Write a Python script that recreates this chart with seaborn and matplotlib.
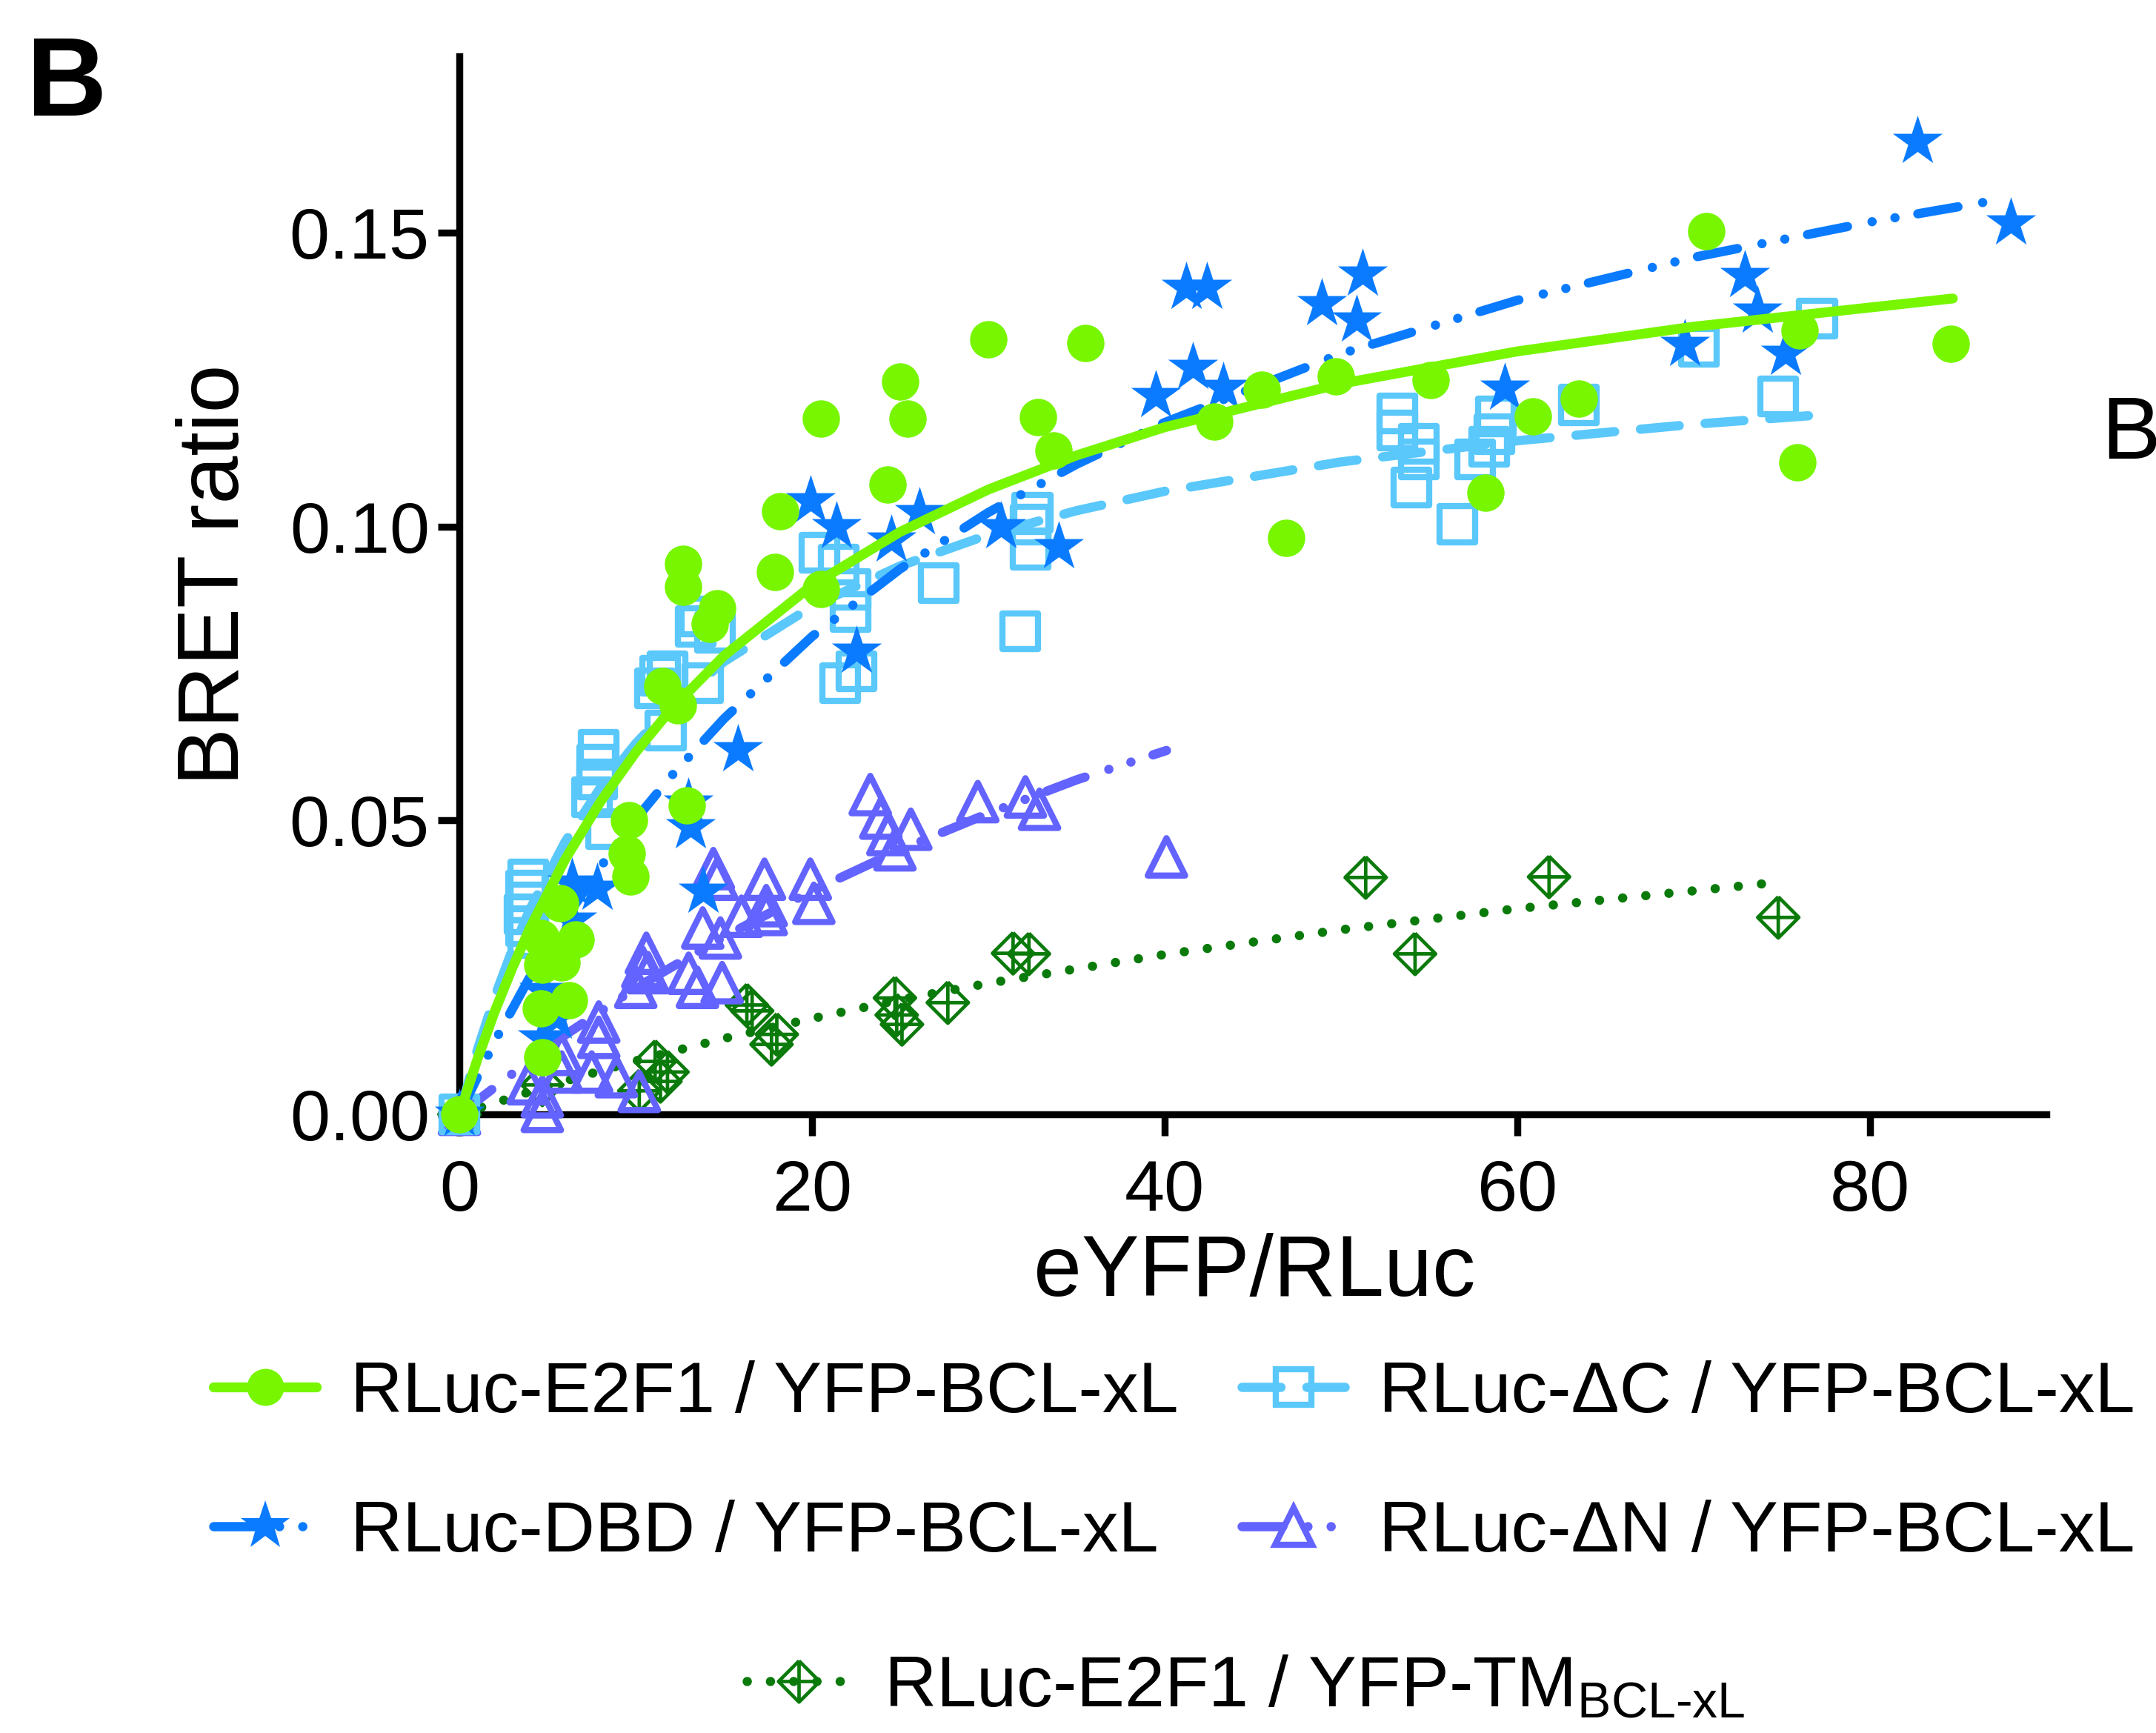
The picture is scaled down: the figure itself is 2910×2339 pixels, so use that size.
import numpy as np
import pandas as pd
import matplotlib
matplotlib.use('Agg')
import matplotlib.pyplot as plt
from matplotlib.path import Path
from matplotlib.lines import Line2D
import seaborn as sns

# RLuc-E2F1 / YFP-BCL-xL  (green dots)
e2f1_x = [0, 4.7, 4.6, 6.2, 4.7, 5.8, 4.6, 6.6, 5.7, 9.5, 9.7, 9.6, 12.9, 11.5, 12.4, 14.6, 14.2, 12.7, 12.7, 18.2,
          17.9, 20.5, 20.5, 24.3, 25.0, 25.4, 30.0, 32.8, 33.7, 35.5, 42.8, 45.5, 46.9, 49.7, 55.1, 58.2, 60.9, 63.5,
          70.7, 76.0, 75.9, 84.6]
e2f1_y = [0, 0.0097, 0.018, 0.0194, 0.0255, 0.0258, 0.030, 0.0298, 0.0359, 0.0444, 0.0405, 0.050, 0.0525, 0.0729,
          0.0696, 0.0861, 0.0834, 0.0936, 0.0898, 0.1026, 0.0923, 0.0894, 0.1183, 0.1072, 0.1247, 0.1183, 0.1318,
          0.1186, 0.1129, 0.1312, 0.1178, 0.1233, 0.0981, 0.1256, 0.1249, 0.1058, 0.1188, 0.1218, 0.1503, 0.1333,
          0.1109, 0.1311]

# RLuc-DBD / YFP-BCL-xL  (blue stars)
dbd_x = [0, 4.7, 5.5, 4.8, 6.4, 6.4, 7.8, 13.8, 13.1, 13.0, 15.8, 19.9, 21.4, 22.5, 24.5, 26.1, 30.7, 34.0, 39.5,
         41.2, 42.4, 41.6, 43.3, 48.9, 50.9, 51.2, 59.3, 69.5, 72.9, 73.6, 75.2, 82.7, 88.0]
dbd_y = [0, 0.013, 0.0165, 0.021, 0.033, 0.0393, 0.0384, 0.038, 0.0489, 0.053, 0.062, 0.1044, 0.100, 0.0788, 0.0977,
         0.1024, 0.100, 0.0965, 0.1223, 0.1407, 0.1407, 0.1271, 0.1237, 0.1379, 0.1351, 0.1429, 0.1235, 0.131,
         0.1427, 0.1367, 0.1294, 0.1655, 0.1516]

# RLuc-dC / YFP-BCL-xL  (light blue squares)
dc_x = [0, 3.9, 3.8, 3.9, 3.7, 3.8, 3.9, 8.3, 7.8, 7.8, 7.9, 7.5, 11.1, 11.4, 11.8, 13.8, 11.7, 13.4, 14.5, 13.6,
        20.4, 21.5, 22.2, 22.2, 21.6, 22.5, 27.2, 31.8, 32.5, 32.4, 32.4, 53.2, 53.2, 54.4, 54.4, 54.0, 56.6, 57.6,
        58.8, 58.7, 58.4, 63.5, 70.3, 74.8, 77.0]
dc_y = [0, 0.040, 0.038, 0.036, 0.034, 0.032, 0.030, 0.0485, 0.057, 0.0595, 0.062, 0.054, 0.0725, 0.0746, 0.0754,
        0.0734, 0.0653, 0.083, 0.082, 0.0847, 0.0956, 0.0935, 0.0893, 0.0855, 0.0734, 0.0754, 0.0904, 0.0822,
        0.1024, 0.1003, 0.0961, 0.1193, 0.1164, 0.1141, 0.1114, 0.1066, 0.1004, 0.1114, 0.1187, 0.1157, 0.1136,
        0.1207, 0.1306, 0.1221, 0.1354]

# RLuc-dN / YFP-BCL-xL  (purple triangles)
dn_x = [0, 3.9, 4.7, 4.7, 5.8, 5.8, 7.5, 8.9, 10.2, 7.9, 7.9, 10.0, 10.6, 10.7, 10.4, 13.0, 13.5, 14.9, 13.8, 14.8,
        16.0, 17.4, 14.4, 14.6, 17.3, 19.9, 20.1, 17.4, 23.3, 24.3, 24.7, 25.6, 23.9, 29.4, 32.1, 32.9, 40.1]
dn_y = [0, 0.0052, 0.003, 0.0005, 0.0102, 0.0072, 0.0072, 0.0064, 0.0039, 0.0157, 0.0131, 0.0216, 0.0274, 0.0241,
        0.025, 0.024, 0.0216, 0.0224, 0.0317, 0.030, 0.0337, 0.0355, 0.0418, 0.040, 0.040, 0.040, 0.0359, 0.034,
        0.0544, 0.0476, 0.045, 0.0485, 0.0504, 0.0532, 0.054, 0.0519, 0.0438]

# RLuc-E2F1 / YFP-TM BCL-xL  (dark green diamonds)
tm_x = [0, 4.7, 10.2, 11.1, 11.8, 11.4, 16.3, 16.6, 17.7, 18.0, 24.7, 24.8, 25.1, 27.7, 31.4, 32.3, 51.4, 54.2,
        61.8, 74.8]
tm_y = [0, 0.005, 0.004, 0.009, 0.0072, 0.0056, 0.0186, 0.0176, 0.0119, 0.0136, 0.0198, 0.0169, 0.0153, 0.019,
        0.0274, 0.0273, 0.0403, 0.0273, 0.0404, 0.0335]

# saturation fit curves
e2f1_fit_x = [0, 1, 2, 3, 4, 6, 8, 10, 12, 15, 20, 25, 30, 35, 40, 50, 60, 70, 84.7]
e2f1_fit_y = [0, 0.0092, 0.0175, 0.0249, 0.0317, 0.0434, 0.0532, 0.0616, 0.0689, 0.0780, 0.0900, 0.0991, 0.1063,
              0.1121, 0.1169, 0.1243, 0.1298, 0.1340, 0.1388]
dc_fit_x = [0, 1, 2, 3, 4, 6, 8, 10, 12, 15, 20, 25, 30, 35, 40, 50, 60, 70, 77.2]
dc_fit_y = [0, 0.0108, 0.0200, 0.0280, 0.0349, 0.0464, 0.0556, 0.0631, 0.0694, 0.0770, 0.0864, 0.0933, 0.0986,
            0.1027, 0.1060, 0.1110, 0.1146, 0.1174, 0.1190]
dbd_fit_x = [0, 2, 4, 6, 8, 10, 12, 15, 20, 25, 30, 35, 40, 50, 60, 70, 80, 87.5]
dbd_fit_y = [0, 0.0124, 0.0234, 0.0332, 0.0421, 0.0502, 0.0575, 0.0673, 0.0813, 0.0928, 0.1024, 0.1106, 0.1177,
             0.1294, 0.1385, 0.1458, 0.1518, 0.1557]
dn_fit_x = [0, 5, 10, 15, 20, 25, 30, 35, 40.1]
dn_fit_y = [0, 0.0115, 0.0215, 0.0302, 0.0380, 0.0450, 0.0512, 0.0569, 0.0619]
tm_fit_x = [0, 5, 10, 15, 20, 25, 30, 40, 50, 60, 74.2]
tm_fit_y = [0, 0.0048, 0.0091, 0.0129, 0.0163, 0.0195, 0.0223, 0.0272, 0.0314, 0.0350, 0.0393]

xticks = [0, 20, 40, 60, 80]
yticks = [0.00, 0.05, 0.10, 0.15]
ytick_labels = ['0.00', '0.05', '0.10', '0.15']

labels = ['RLuc-E2F1 / YFP-BCL-xL', 'RLuc-ΔC / YFP-BCL-xL', 'RLuc-DBD / YFP-BCL-xL', 'RLuc-ΔN / YFP-BCL-xL',
          'RLuc-E2F1 / YFP-TM$_{\\text{BCL-xL}}$']

c_green = '#77F600'
c_sky = '#5AC8FA'
c_blue = '#0A7BFF'
c_purple = '#6363FF'
c_dkgreen = '#0A7A0A'

sns.set_style('ticks')
plt.rcParams['font.family'] = ['Liberation Sans', 'DejaVu Sans']
plt.rcParams['mathtext.fontset'] = 'custom'
plt.rcParams['mathtext.rm'] = 'Liberation Sans'
for k in ['text.color', 'axes.labelcolor', 'xtick.color', 'ytick.color', 'axes.edgecolor']:
    plt.rcParams[k] = 'black'

# diamond with a cross inside
diamond_cross = Path(
    [(0, 1), (1, 0), (0, -1), (-1, 0), (0, 1), (-1, 0), (1, 0), (0, -1), (0, 1)],
    [Path.MOVETO, Path.LINETO, Path.LINETO, Path.LINETO, Path.LINETO,
     Path.MOVETO, Path.LINETO, Path.MOVETO, Path.LINETO])

lw = 4.5
ls_dc = (0, (4.2, 2.8))
ls_dbd = (0, (4.4, 2.7, 0.01, 2.5, 0.01, 2.5))
ls_dn = (0, (4.4, 2.7, 0.01, 2.5, 0.01, 2.5))
ls_tm = (0, (0.01, 2.5))

fig = plt.figure(figsize=(14.55, 11.695), dpi=200)
ax = fig.add_axes([0.2131, 0.357, 0.736, 0.6105])

# TM
sns.scatterplot(x=tm_x, y=tm_y, ax=ax, marker=diamond_cross, s=400, facecolor='none', edgecolor=c_dkgreen,
                linewidth=1.7, clip_on=False, zorder=3)
sns.lineplot(x=tm_fit_x, y=tm_fit_y, ax=ax, color=c_dkgreen, lw=lw, linestyle=ls_tm, dash_capstyle='round',
             estimator=None, sort=False, clip_on=False, zorder=4)
# dN
sns.scatterplot(x=dn_x, y=dn_y, ax=ax, marker='^', s=330, facecolor='none', edgecolor=c_purple,
                linewidth=3.0, clip_on=False, zorder=5)
sns.lineplot(x=dn_fit_x, y=dn_fit_y, ax=ax, color=c_purple, lw=lw, linestyle=ls_dn, dash_capstyle='round',
             estimator=None, sort=False, clip_on=False, zorder=6)
# dC
sns.scatterplot(x=dc_x, y=dc_y, ax=ax, marker='s', s=300, facecolor='none', edgecolor=c_sky,
                linewidth=3.0, clip_on=False, zorder=7)
sns.lineplot(x=dc_fit_x, y=dc_fit_y, ax=ax, color=c_sky, lw=lw, linestyle=ls_dc, dash_capstyle='round',
             estimator=None, sort=False, clip_on=False, zorder=8)
# DBD
sns.scatterplot(x=dbd_x, y=dbd_y, ax=ax, marker='*', s=650, color=c_blue, linewidth=0, clip_on=False, zorder=9)
sns.lineplot(x=dbd_fit_x, y=dbd_fit_y, ax=ax, color=c_blue, lw=lw, linestyle=ls_dbd, dash_capstyle='round',
             estimator=None, sort=False, clip_on=False, zorder=10)
# E2F1
sns.scatterplot(x=e2f1_x, y=e2f1_y, ax=ax, marker='o', s=330, color=c_green, linewidth=0, clip_on=False, zorder=11)
sns.lineplot(x=e2f1_fit_x, y=e2f1_fit_y, ax=ax, color=c_green, lw=4.8, solid_capstyle='round',
             estimator=None, sort=False, clip_on=False, zorder=12)

ax.set_xlim(0, 90)
ax.set_ylim(0, 0.18)
ax.set_xticks(xticks)
ax.set_yticks(yticks)
ax.set_yticklabels(ytick_labels)
sns.despine(ax=ax)
for side in ['left', 'bottom']:
    ax.spines[side].set_linewidth(3.4)
    ax.spines[side].set_color('black')
ax.tick_params(axis='both', width=3.4, length=10.5, labelsize=35, color='black', labelcolor='black')
ax.tick_params(axis='y', pad=4)
ax.tick_params(axis='x', pad=11)
ax.set_xlabel('eYFP/RLuc', fontsize=42)
ax.set_ylabel('BRET ratio', fontsize=42)
ax.xaxis.set_label_coords(0.501, -0.112)
ax.yaxis.set_label_coords(-0.128, 0.51)

# legend, one entry per slot
h_e2f1 = Line2D([], [], color=c_green, lw=4.8, marker='o', markersize=18, markeredgewidth=0)
h_dc = Line2D([], [], color=c_sky, lw=lw, linestyle=ls_dc, dash_capstyle='round', marker='s', markersize=17,
              markerfacecolor='none', markeredgecolor=c_sky, markeredgewidth=3.0)
h_dbd = Line2D([], [], color=c_blue, lw=lw, linestyle=ls_dbd, dash_capstyle='round', marker='*', markersize=25,
               markeredgewidth=0)
h_dn = Line2D([], [], color=c_purple, lw=lw, linestyle=ls_dn, dash_capstyle='round', marker='^', markersize=18,
              markerfacecolor='none', markeredgecolor=c_purple, markeredgewidth=3.0)
h_tm = Line2D([], [], color=c_dkgreen, lw=lw, linestyle=ls_tm, dash_capstyle='round', marker=diamond_cross,
              markersize=20, markerfacecolor='none', markeredgecolor=c_dkgreen, markeredgewidth=1.7)

slots = [(h_e2f1, labels[0], 0.099, 0.196), (h_dc, labels[1], 0.576, 0.196),
         (h_dbd, labels[2], 0.099, 0.1154), (h_dn, labels[3], 0.576, 0.1154),
         (h_tm, labels[4], 0.3464, 0.026)]
for h, lab, lx, ly in slots:
    fig.legend(handles=[h], labels=[lab], loc='center left', bbox_to_anchor=(lx, ly), frameon=False,
               fontsize=35, handlelength=1.43, handletextpad=0.47, borderpad=0, borderaxespad=0, numpoints=1)

fig.text(0.0125, 0.9335, 'B', fontsize=54, fontweight='bold', ha='left', va='baseline')
fig.text(0.9746, 0.7354, 'B', fontsize=43, ha='left', va='baseline')

fig.savefig('out.png', dpi=200)
